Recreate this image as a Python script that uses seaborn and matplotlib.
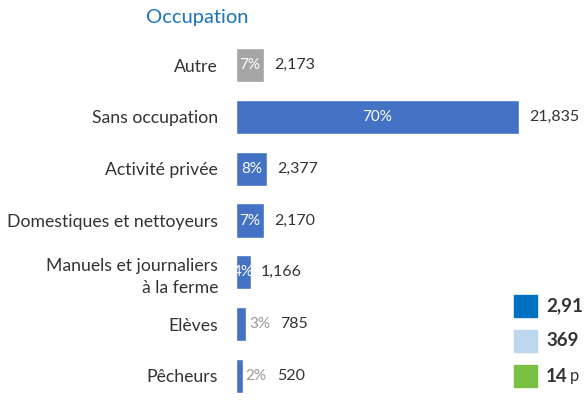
import pandas as pd
import numpy as np
import matplotlib
matplotlib.use('Agg')
import matplotlib.pyplot as plt
import seaborn as sns
from matplotlib.patches import Rectangle

categories = ['Autre', 'Sans occupation', 'Activité privée', 'Domestiques et nettoyeurs',
              'Manuels et journaliers\nà la ferme', 'Elèves', 'Pêcheurs']
counts = [2173, 21835, 2377, 2170, 1166, 785, 520]
percents = [7, 70, 8, 7, 4, 3, 2]
pct_inside = [True, True, True, True, True, False, False]
bar_colors = ['#a5a5a5', '#4472c4', '#4472c4', '#4472c4', '#4472c4', '#4472c4', '#4472c4']

legend_numbers = ['2,91', '369', '14']
legend_rest = ['', '', 'p']
legend_colors = ['#0070c0', '#bdd7ee', '#7ac143']

sns.set_style('white')
plt.rcParams['font.family'] = ['Lato', 'DejaVu Sans']

df = pd.DataFrame({'category': categories, 'count': counts})

fig = plt.figure(figsize=(5.84, 4.05), dpi=100)
ax = fig.add_axes([236 / 584, 0, 348 / 584, 1])
sns.barplot(data=df, x='count', y='category', hue='category', palette=bar_colors,
            width=0.66, legend=False, ax=ax, orient='h', saturation=1)
ax.set_xlim(0, 21835 * 348 / 283)
ax.set_ylim(6.56, -1.255)
sns.despine(ax=ax, left=True, bottom=True)
ax.set_xticks([])
ax.set_xlabel('')
ax.set_ylabel('')
ax.tick_params(axis='y', length=0, pad=13, labelsize=12.7, labelcolor='#333333')
for lab in ax.get_yticklabels():
    if '\n' in lab.get_text():
        lab.set_linespacing(1.45)
        lab.set_y(lab.get_position()[1])

for i, (c, p) in enumerate(zip(counts, percents)):
    if pct_inside[i]:
        ax.text(c / 2, i, f'{p}%', ha='center', va='center', color='white', fontsize=11)
        ax.annotate(f'{c:,}', (c, i), xytext=(10, 0), textcoords='offset pixels',
                    ha='left', va='center', color='#333333', fontsize=11.5)
    else:
        ax.annotate(f'{p}%', (c, i), xytext=(3, 0), textcoords='offset pixels',
                    ha='left', va='center', color='#999999', fontsize=11)
        ax.annotate(f'{c:,}', (c, i), xytext=(34, 0), textcoords='offset pixels',
                    ha='left', va='center', color='#333333', fontsize=11.5)

fig.text(197 / 584, 1 - 18 / 405, 'Occupation', color='#1a75bb', fontsize=14.5,
         ha='center', va='center')

for k, (num, rest, col) in enumerate(zip(legend_numbers, legend_rest, legend_colors)):
    yc = 306 + k * 35
    fig.add_artist(Rectangle((514 / 584, 1 - (yc + 11) / 405), 23 / 584, 22 / 405,
                             transform=fig.transFigure, color=col))
    fig.text(546 / 584, 1 - yc / 405, num, fontsize=13.5, fontweight='bold',
             color='#333333', ha='left', va='center')
    if rest:
        fig.text(570 / 584, 1 - yc / 405, rest, fontsize=12, color='#333333',
                 ha='left', va='center')

plt.savefig('out.png', dpi=100)
